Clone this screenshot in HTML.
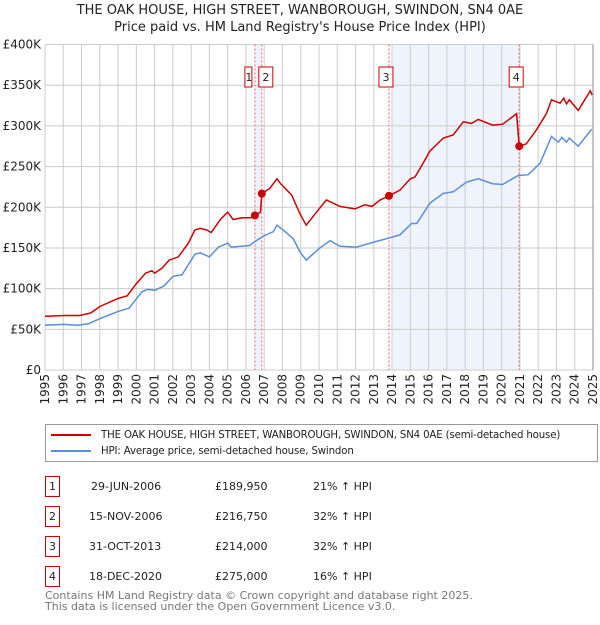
<!DOCTYPE html>
<html><head><meta charset="utf-8"><style>
body{margin:0;background:#fff;font-family:"Liberation Sans","DejaVu Sans",sans-serif;}
svg text{font-family:"DejaVu Sans","Liberation Sans",sans-serif;}
</style></head><body>
<svg id="chart" width="600" height="620" xmlns="http://www.w3.org/2000/svg"></svg>
<script>
const years=[1995,1996,1997,1998,1999,2000,2001,2002,2003,2004,2005,2006,2007,2008,2009,2010,2011,2012,2013,2014,2015,2016,2017,2018,2019,2020,2021,2022,2023,2024,2025];
const yTicks=[0,50000,100000,150000,200000,250000,300000,350000,400000];
const yTickLabels=["£0","£50K","£100K","£150K","£200K","£250K","£300K","£350K","£400K"];
const hpiT=[1995,1996,1996.8,1997.4,1998,1999,1999.6,2000.3,2000.6,2001,2001.5,2002,2002.5,2003.2,2003.5,2004,2004.5,2005,2005.2,2006.2,2006.5,2007,2007.5,2007.7,2008.2,2008.6,2008.96,2009.3,2010.05,2010.6,2011.15,2012.06,2013.15,2013.8,2014.43,2015.07,2015.35,2016.07,2016.8,2017.35,2018.08,2018.72,2019.5,2020.05,2020.9,2021.45,2022.1,2022.73,2023.1,2023.3,2023.55,2023.7,2024.19,2024.93];
const hpiV=[55,56,55,57,63,72,76,96,99,98,103,115,117,142,144,139,151,156,151,153,158,165,170,178,169,161,145,135,150,159,152,151,158,162,166,180,180,205,217,219,231,235,229,228,239,240,254,287,280,286,280,285,275,296];
const redT=[1995,1996.15,1996.9,1997.5,1998,1999,1999.5,2000,2000.5,2000.85,2001,2001.4,2001.8,2002.3,2002.85,2003.2,2003.5,2003.85,2004.1,2004.6,2005,2005.3,2005.8,2006.25,2006.49,2006.8,2006.87,2007.3,2007.7,2007.9,2008.5,2008.96,2009.3,2009.97,2010.4,2011.15,2011.97,2012.5,2012.9,2013.35,2013.83,2014.43,2015,2015.25,2015.7,2016.07,2016.8,2017.35,2017.9,2018.35,2018.72,2019.5,2020.05,2020.82,2020.96,2021.35,2021.9,2022.45,2022.73,2023.2,2023.4,2023.55,2023.7,2024.19,2024.85,2024.95];
const redV=[66,67,67,70,78,88,91,106,119,122,119,125,135,139,156,172,174,172,169,185,194,185,187,187,189.95,194,216.75,223,235,229,215,192,178,197,209,201,198,203,201,209,214,221,235,237,254,269,285,289,305,303,308,301,302,315,275,278,295,315,332,328,334,327,332,319,343,338];
const saleT=[2006.49,2006.87,2013.83,2020.96];
const saleV=[189.95,216.75,214,275];
const saleLabels=["1","2","3","4"];
const X0=45,X1=593,Y0=370,Y1=44.5;
const xs=t=>X0+(t-1995)/30*(X1-X0);
const ys=v=>Y0-v/400000*(Y0-Y1);
const svg=document.getElementById('chart');
const NS="http://www.w3.org/2000/svg";
function mk(tag,at,parent){const e=document.createElementNS(NS,tag);for(const k in at)e.setAttribute(k,at[k]);(parent||svg).appendChild(e);return e;}
let s1=mk('rect',{x:xs(saleT[0]),y:Y1,width:xs(saleT[1])-xs(saleT[0]),height:Y0-Y1,fill:'#eef3fc'});


let s2=mk('rect',{x:xs(2014.05),y:Y1,width:xs(saleT[3])-xs(2014.05),height:Y0-Y1,fill:'#eef3fc'});


years.forEach(y=>{let l=mk('line',{x1:xs(y),x2:xs(y),y1:Y1,y2:Y0,stroke:'#cccccc','stroke-width':1});

});
yTicks.forEach((v,i)=>{let l=mk('line',{x1:X0,x2:X1,y1:ys(v),y2:ys(v),stroke:'#cccccc','stroke-width':1});


let t=mk('text',{x:X0-4,y:ys(v)+4,'text-anchor':'end','font-size':12,fill:'#222'});t.textContent=yTickLabels[i];

});
years.forEach(y=>{let t=mk('text',{transform:`translate(${xs(y)+4},${Y0+4}) rotate(-90)`,'text-anchor':'end','font-size':12,fill:'#222'});t.textContent=y;

});
saleT.forEach(t=>{let l=mk('line',{x1:xs(t),x2:xs(t),y1:Y1,y2:Y0,stroke:'#ee6666','stroke-width':1,'stroke-dasharray':'2,2'});

});
function path(T,V){return T.map((t,i)=>(i?'L':'M')+xs(t).toFixed(1)+','+ys(V[i]*1000).toFixed(1)).join('');}
let hp=mk('path',{d:path(hpiT,hpiV),fill:'none',stroke:'#5b8fd6','stroke-width':1.5});


let rp=mk('path',{d:path(redT,redV),fill:'none',stroke:'#cc0000','stroke-width':1.5});


saleT.forEach((t,i)=>{let c=mk('circle',{cx:xs(t),cy:ys(saleV[i]*1000),r:4,fill:'#cc0000'});


const bx=(i===0?xs(t)-10:(i===1?xs(t)-3:xs(t)-10));
let r=mk('rect',{x:bx,y:67,width:(i<2?(i===0?7:14):14),height:20,fill:'#fff',stroke:'#cc0000','stroke-width':1});


let tx=mk('text',{x:bx+(i===0?4:7),y:81,'text-anchor':'middle','font-size':11,fill:'#222'});tx.textContent=saleLabels[i];

});
let ax=mk('line',{x1:X1,x2:X1,y1:Y1,y2:Y0,stroke:'#888','stroke-width':1});


</script>
<div style="position:absolute;left:0;top:2px;width:600px;text-align:center;font-size:13px;line-height:17px;color:#222;font-family:'DejaVu Sans',sans-serif;">THE OAK HOUSE, HIGH STREET, WANBOROUGH, SWINDON, SN4 0AE<br>Price paid vs. HM Land Registry's House Price Index (HPI)</div>
<div style="position:absolute;left:45px;top:424px;width:551px;height:36px;border:1px solid #999;font-size:10.2px;font-family:'DejaVu Sans',sans-serif;color:#222;">
<div style="position:absolute;left:5px;top:5px;white-space:nowrap;letter-spacing:-0.15px;"><span style="display:inline-block;width:40px;height:2px;background:#cc0000;vertical-align:middle;margin-right:10px;"></span>THE OAK HOUSE, HIGH STREET, WANBOROUGH, SWINDON, SN4 0AE (semi-detached house)</div>
<div style="position:absolute;left:5px;top:21px;white-space:nowrap;letter-spacing:-0.15px;"><span style="display:inline-block;width:40px;height:2px;background:#5b8fd6;vertical-align:middle;margin-right:10px;"></span>HPI: Average price, semi-detached house, Swindon</div>
</div>
<div style="font-size:11px;font-family:'DejaVu Sans',sans-serif;color:#222;">
<div style="position:absolute;left:45px;top:476px;width:13px;height:19px;border:1px solid #cc0000;text-align:center;line-height:19px;">1</div>
<div style="position:absolute;left:91px;top:480px;">29-JUN-2006</div>
<div style="position:absolute;left:215px;top:480px;">£189,950</div>
<div style="position:absolute;left:313px;top:480px;">21% ↑ HPI</div>
<div style="position:absolute;left:45px;top:506px;width:13px;height:19px;border:1px solid #cc0000;text-align:center;line-height:19px;">2</div>
<div style="position:absolute;left:89px;top:510px;">15-NOV-2006</div>
<div style="position:absolute;left:215px;top:510px;">£216,750</div>
<div style="position:absolute;left:313px;top:510px;">32% ↑ HPI</div>
<div style="position:absolute;left:45px;top:536px;width:13px;height:19px;border:1px solid #cc0000;text-align:center;line-height:19px;">3</div>
<div style="position:absolute;left:89px;top:540px;">31-OCT-2013</div>
<div style="position:absolute;left:215px;top:540px;">£214,000</div>
<div style="position:absolute;left:313px;top:540px;">32% ↑ HPI</div>
<div style="position:absolute;left:45px;top:566px;width:13px;height:19px;border:1px solid #cc0000;text-align:center;line-height:19px;">4</div>
<div style="position:absolute;left:89px;top:570px;">18-DEC-2020</div>
<div style="position:absolute;left:215px;top:570px;">£275,000</div>
<div style="position:absolute;left:313px;top:570px;">16% ↑ HPI</div>
</div>
<div style="position:absolute;left:45px;top:590px;font-size:11px;line-height:11px;color:#777;font-family:'DejaVu Sans',sans-serif;">Contains HM Land Registry data © Crown copyright and database right 2025.<br>This data is licensed under the Open Government Licence v3.0.</div>
</body></html>
